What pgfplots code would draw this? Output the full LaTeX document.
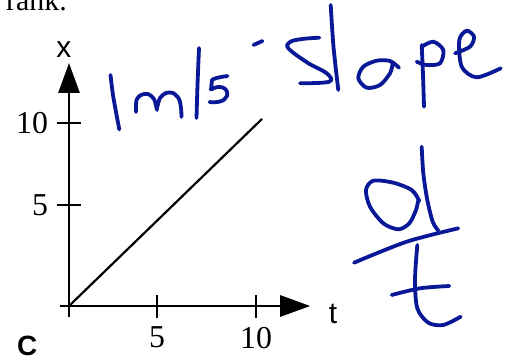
\documentclass[border=0pt]{standalone}
\usepackage{pgfplots}
\pgfplotsset{compat=1.18}
\usepackage{fontspec}
\setmainfont{Liberation Serif}
\newfontfamily\sansfont{Liberation Sans}
\usetikzlibrary{arrows.meta}
\definecolor{ink}{RGB}{8,24,150}

\begin{document}
\begin{tikzpicture}[x=1bp,y=1bp]
\useasboundingbox (0,0) rectangle (519,360);
\clip (0,0) rectangle (519,360);
% last word of the line of text above the graph
\node[anchor=base east, inner sep=0pt, font=\fontsize{30}{30}\selectfont] at (67,350) {rank.};
\begin{axis}[
  at={(69bp,54bp)}, anchor=origin,
  x=18.7bp, y=18.3bp,
  xmin=-0.48, xmax=12.9, ymin=-0.6, ymax=13.28,
  axis lines=middle,
  axis line style={line width=2.8bp, -{Triangle[length=30bp,width=21bp]}},
  xtick={4.71,10}, xticklabels={5,10},
  ytick={5.52,10}, yticklabels={5,10},
  minor tick num=0,
  tick align=center, major tick length=23bp,
  tick style={black, line width=2.8bp},
  ticklabel style={font=\fontsize{32}{32}\selectfont},
  yticklabel style={xshift=-6bp},
  xticklabel style={yshift=-6bp},
  xlabel={t}, ylabel={x},
  every axis x label/.style={at={(axis cs:14.12,-0.98)}, anchor=base, font=\sansfont\fontsize{30}{30}\selectfont},
  every axis y label/.style={at={(axis cs:-0.27,13.6)}, anchor=base, font=\sansfont\fontsize{30}{30}\selectfont},
  clip=false,
]
\addplot[black, line width=2.2bp] coordinates {(0,0) (10.32,10.22)};
\end{axis}
% panel letter
\node[anchor=base west, inner sep=0pt, font=\sansfont\bfseries\fontsize{28}{28}\selectfont] at (17,5) {C};
% handwritten notes, in page pixels measured from the top left
\begin{scope}[shift={(0,360)}, yscale=-1, ink, line width=3.8bp, line cap=round, line join=round]
  % 1
  \draw plot[smooth] coordinates {(110.5,75) (113.3,97) (119.3,129.5)};
  % m
  \draw plot[smooth] coordinates {(136,112) (136.5,100) (141,95) (148,94) (154,99) (157,110)};
  \draw plot[smooth] coordinates {(157,108) (160,98) (166,93) (173,93) (179,99) (181,108) (181.5,117)};
  % slash
  \draw plot[smooth] coordinates {(199,48) (197.5,85) (196.5,118)};
  % s
  \draw (227.5,76) .. controls (220,77) and (213,78.5) .. (212,80) -- (211,89.5)
        .. controls (220,84) and (229,88) .. (227,96) .. controls (225,102) and (215,103) .. (209.5,102);
  % small tick
  \draw (253.5,45) -- (262.5,41);
  % S
  \draw plot[smooth, tension=0.6] coordinates {(319.3,37.7) (302,39) (290,42) (288.5,48.5) (308,63) (326.7,73.3) (329.3,81.7) (300,83.3)};
  % l
  \draw plot[smooth] coordinates {(330.7,5) (333.5,47) (338.3,90)};
  % o
  \draw plot[smooth] coordinates {(399,67.7) (390,61) (376.7,60.7) (363.3,66.7) (358.3,78.3) (366.7,87.7) (380,85) (390,73.3) (392.7,63.3)};
  % p
  \draw plot[smooth] coordinates {(421.7,45) (423,75) (424,106.7)};
  \draw plot[smooth] coordinates {(421.7,46.7) (433.3,41.7) (443.3,50) (440,63.3) (426.7,65) (416.7,61.7)};
  % e
  \draw plot[smooth] coordinates {(455,53.3) (470,46.7) (474,36.7) (466.7,30.7) (459.3,40) (461.7,66.7) (476.7,77.3) (500.7,68.3)};
  % d
  \draw plot[smooth] coordinates {(419.3,201) (411.7,190) (393.3,182.7) (373.3,180.7) (366,190) (370,206.7) (383.3,223.3) (398.3,229.3) (409.3,223.3) (416,210) (418.3,200)};
  \draw plot[smooth] coordinates {(421.7,146.7) (423.3,173.3) (427.3,200) (432.7,221.7) (438.3,230.7)};
  % fraction bar
  \draw plot[smooth] coordinates {(354,262.7) (406.7,241.7) (458.3,228.3)};
  % t
  \draw plot[smooth] coordinates {(417.3,245) (415,280) (417.3,308.3) (428.3,322.7) (443.3,325) (460.7,316.7)};
  \draw plot[smooth] coordinates {(391.7,295) (420,288.3) (449.3,286)};
\end{scope}
\end{tikzpicture}
\end{document}
